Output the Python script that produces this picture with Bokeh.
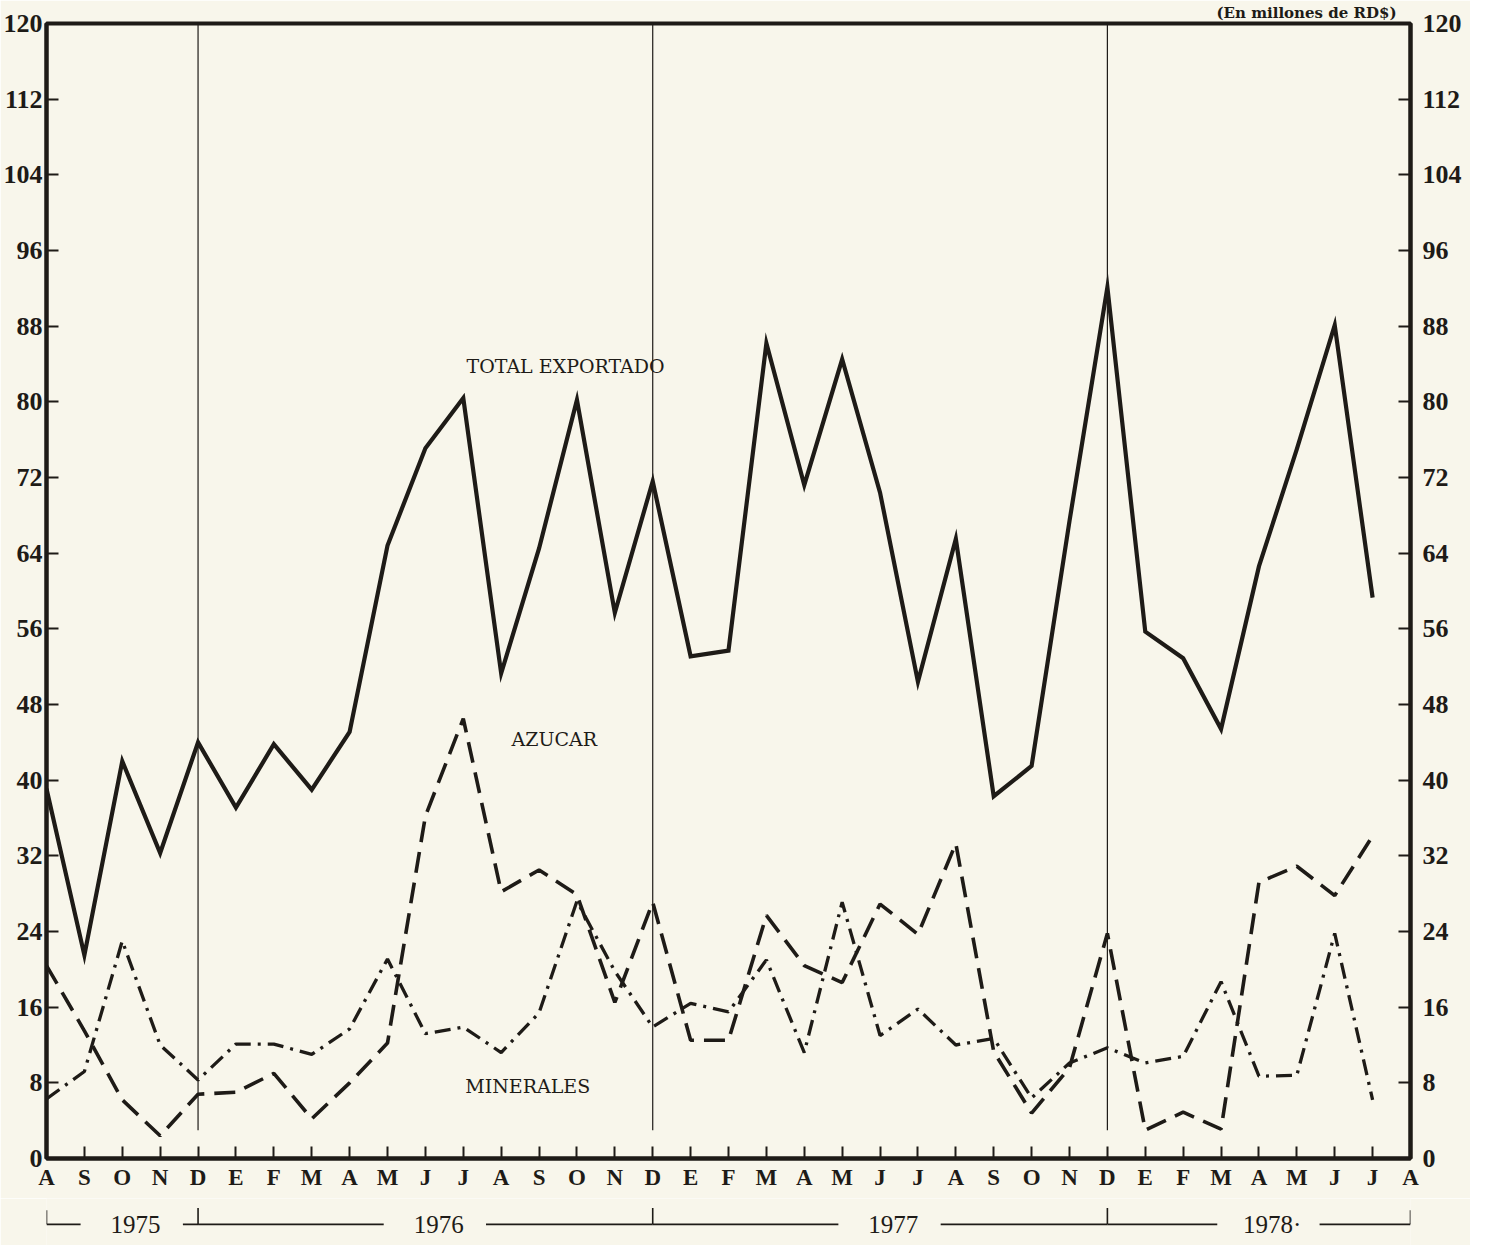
from bokeh.plotting import figure
from bokeh.models import Range1d, LinearAxis, FixedTicker
from bokeh.layouts import column
from bokeh.core.properties import value
from bokeh.embed import file_html
from bokeh.resources import INLINE

# ---------------- data ----------------
month_labels = ["A", "S", "O", "N", "D", "E", "F", "M", "A", "M", "J", "J",
                "A", "S", "O", "N", "D", "E", "F", "M", "A", "M", "J", "J",
                "A", "S", "O", "N", "D", "E", "F", "M", "A", "M", "J", "J", "A"]
total_exportado = [39.1, 21.5, 42.0, 32.3, 44.0, 37.1, 43.8, 39.0, 45.1, 64.8, 75.1, 80.4,
                   51.3, 64.5, 80.2, 57.7, 71.6, 53.1, 53.7, 86.2, 71.2, 84.5, 70.4, 50.4,
                   65.5, 38.3, 41.5, 67.4, 92.1, 55.7, 52.9, 45.4, 62.6, 75.0, 88.1, 59.3]
azucar = [20.4, 13.5, 6.2, 2.4, 6.8, 7.0, 9.0, 4.2, 8.0, 12.2, 36.2, 46.5,
          28.2, 30.5, 27.9, 16.5, 27.1, 12.5, 12.5, 25.7, 20.4, 18.6, 26.9, 23.7,
          33.3, 11.3, 4.8, 9.6, 23.8, 3.0, 4.9, 3.1, 29.2, 30.9, 27.8, 34.1]
minerales = [6.3, 9.2, 23.0, 12.0, 8.3, 12.1, 12.1, 11.0, 13.7, 21.1, 13.2, 13.9,
             11.2, 15.4, 27.2, 19.8, 13.9, 16.4, 15.5, 21.0, 11.2, 27.1, 13.0, 15.8,
             12.0, 12.7, 6.4, 10.1, 11.7, 10.1, 10.8, 18.7, 8.7, 8.8, 23.8, 6.2]
y_ticks = list(range(0, 121, 8))
year_names = ["1975", "1976", "1977", "1978·"]
year_bounds = [0, 4, 16, 28, 36]          # month index of year separators (D)
divider_months = [4, 16, 28]

months_x = list(range(len(total_exportado)))

BG = "#f8f6eb"
INK = "#1e1b17"
SERIF = "Liberation Serif"

W = 1470
p = figure(width=W, height=1198, x_range=Range1d(0, 36), y_range=Range1d(0, 120),
           output_backend="svg", toolbar_location=None,
           min_border_left=46, min_border_right=60, min_border_top=20, min_border_bottom=40,
           background_fill_color=BG, border_fill_color=BG,
           outline_line_color=INK, outline_line_width=4,
           title="(En millones de RD$)")
p.grid.visible = False
p.title.align = "right"
p.title.offset = 14
p.title.standoff = 3
p.title.text_font = "DejaVu Serif"
p.title.text_font_size = "15px"
p.title.text_font_style = "bold"
p.title.text_color = INK


def style_axis(ax, ticks):
    ax.ticker = FixedTicker(ticks=ticks)
    ax.axis_line_color = INK
    ax.axis_line_width = 4
    ax.major_tick_line_color = INK
    ax.major_tick_line_width = 2
    ax.major_tick_in = 12
    ax.major_tick_out = 0
    ax.minor_tick_line_color = None
    ax.major_label_text_font = SERIF
    ax.major_label_text_font_style = "bold"
    ax.major_label_text_color = INK


yl = p.yaxis[0]
style_axis(yl, y_ticks)
yl.major_label_text_font_size = "26px"
yl.major_label_standoff = 4

yr = LinearAxis()
style_axis(yr, y_ticks)
yr.major_label_text_font_size = "26px"
yr.major_label_standoff = 12
p.add_layout(yr, "right")

xa = p.xaxis[0]
style_axis(xa, list(range(len(month_labels))))
xa.major_label_overrides = {i: m for i, m in enumerate(month_labels)}
xa.major_label_text_font_size = "23px"
xa.major_label_standoff = 6

# divider lines at December
p.segment(x0=divider_months, y0=[3] * 3, x1=divider_months, y1=[120] * 3,
          line_color=INK, line_width=1.2)

p.line(months_x, total_exportado, line_color=INK, line_width=4.2, line_join="miter")
p.line(months_x, azucar, line_color=INK, line_width=3.6, line_dash="21 10")
p.line(months_x, minerales, line_color=INK, line_width=3.3, line_dash="16 7 3 7")

lbl = dict(text_font=value("DejaVu Serif"), text_font_size="19px", text_color=INK,
           text_align="center", text_baseline="middle")
p.text(x=[13.7], y=[83.8], text=["TOTAL EXPORTADO"], **lbl)
p.text(x=[13.4], y=[44.3], text=["AZUCAR"], **lbl)
p.text(x=[12.7], y=[7.7], text=["MINERALES"], **lbl)

# ---------------- year brackets ----------------
p2 = figure(width=W, height=47, x_range=p.x_range, y_range=Range1d(0, 1),
            output_backend="svg", toolbar_location=None,
            x_axis_location=None, y_axis_location=None,
            min_border_left=46, min_border_right=60, min_border_top=0, min_border_bottom=0,
            background_fill_color=BG, border_fill_color=BG, outline_line_color=None)
p2.grid.visible = False

centers = [(year_bounds[k] + year_bounds[k + 1]) / 2 + 0.35 for k in range(len(year_names))]
sx0, sx1 = [], []
for k, c in enumerate(centers):
    sx0 += [year_bounds[k], c + 1.25]
    sx1 += [c - 1.45, year_bounds[k + 1]]
LY = 0.45
p2.segment(x0=sx0, y0=[LY] * len(sx0), x1=sx1, y1=[LY] * len(sx1), line_color=INK, line_width=1.6)
p2.segment(x0=year_bounds, y0=[LY] * len(year_bounds), x1=year_bounds,
           y1=[0.75] + [0.8] * 3 + [0.75], line_color=INK, line_width=1.6)
p2.text(x=centers, y=[LY] * len(centers), text=year_names, text_align="center",
        text_baseline="middle", text_font=value(SERIF), text_font_size="25px", text_color=INK)

layout = column(p, p2, spacing=0)
open("out.html", "w").write(file_html(layout, INLINE))
